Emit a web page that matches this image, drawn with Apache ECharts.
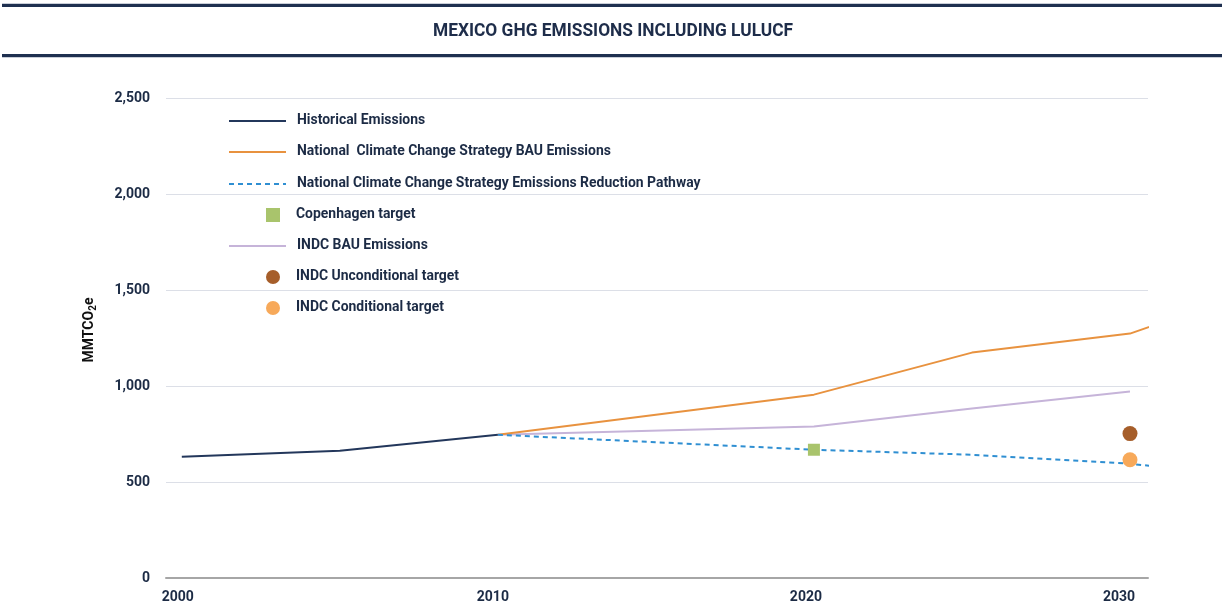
<!DOCTYPE html>
<html><head><meta charset="utf-8">
<script src="https://cdn.jsdelivr.net/npm/echarts@6/dist/echarts.min.js"></script>
<style>html,body{margin:0;padding:0;background:#fff}#c{width:1225px;height:612px}</style>
</head><body><div id="c"></div>
<script>
const FONT = 'Roboto, "Liberation Sans", sans-serif';
const TXT = '#1c2b45';

const yTicks = [0, 500, 1000, 1500, 2000, 2500];
const xTicks = [2000, 2010, 2020, 2030];

const historicalYears = [2000, 2005, 2010];
const historicalValues = [631, 663, 746];

const nccsBauYears = [2010, 2020, 2025, 2030, 2031];
const nccsBauValues = [746, 955, 1174, 1273, 1330];

const nccsPathYears = [2010, 2020, 2025, 2030, 2031];
const nccsPathValues = [746, 668, 642, 595, 578];

const copenhagenYear = [2020];
const copenhagenValue = [668];

const indcBauYears = [2010, 2020, 2025, 2030];
const indcBauValues = [746, 789, 883, 971];

const indcUncondYear = [2030];
const indcUncondValue = [752];

const indcCondYear = [2030];
const indcCondValue = [616];

const titleText = 'MEXICO GHG EMISSIONS INCLUDING LULUCF';

const names = [
  'Historical Emissions',
  'National  Climate Change Strategy BAU Emissions',
  'National Climate Change Strategy Emissions Reduction Pathway',
  'Copenhagen target',
  'INDC BAU Emissions',
  'INDC Unconditional target',
  'INDC Conditional target'
];

const zip = (xs, ys) => xs.map((x, i) => [x, ys[i]]);

// text measurement to emulate the condensed typeface
const ctx = document.createElement('canvas').getContext('2d');
function measure(txt, size) { ctx.font = 'bold ' + size + 'px ' + FONT; return ctx.measureText(txt).width; }
const legendSize = Math.min(14, 14 * 404 / measure(names[2], 14));
const titleSize = 19;
const titleScale = 360 / measure(titleText, titleSize);

const chart = echarts.init(document.getElementById('c'));

const rowCenters = [119, 150, 182, 213, 244, 275, 306];
const isLine = [true, true, true, false, true, false, false];
const legends = names.map((n, i) => isLine[i] ? {
  data: [n], left: 228, top: rowCenters[i] - 7, padding: 0, itemWidth: 57, itemHeight: 14,
  selectedMode: false, itemStyle: { opacity: 0 },
  textStyle: { fontFamily: FONT, fontWeight: 'bold', fontSize: legendSize, color: TXT, padding: [4, 0, 0, 6], lineHeight: 14 }
} : {
  data: [n], left: 266, top: rowCenters[i] - 7, padding: 0, itemWidth: 14, itemHeight: 14,
  selectedMode: false,
  textStyle: { fontFamily: FONT, fontWeight: 'bold', fontSize: legendSize, color: TXT, padding: [4, 0, 0, 11], lineHeight: 14 }
});

const labelStyle = { fontFamily: FONT, fontWeight: 'bold', fontSize: 14, color: TXT };
const xRich = {
  l0: Object.assign({ padding: [0, 8, 0, 0] }, labelStyle),
  l1: Object.assign({ padding: [0, 10, 0, 0] }, labelStyle),
  l2: Object.assign({ padding: [0, 16, 0, 0] }, labelStyle),
  l3: Object.assign({ padding: [0, 22, 0, 0] }, labelStyle)
};

chart.setOption({
  animation: false,
  backgroundColor: '#fff',
  graphic: [
    { type: 'rect', shape: { x: 2, y: 3, width: 1220, height: 1 }, style: { fill: '#c9ced8' } },
    { type: 'rect', shape: { x: 2, y: 4, width: 1220, height: 3 }, style: { fill: '#1f3050' } },
    { type: 'rect', shape: { x: 2, y: 54, width: 1220, height: 3 }, style: { fill: '#1f3050' } },
    { type: 'rect', shape: { x: 2, y: 57, width: 1220, height: 1 }, style: { fill: '#c9ced8' } },
    { type: 'text', x: 613, y: 31, scaleX: titleScale,
      style: { text: titleText, fontFamily: FONT, fontWeight: 'bold', fontSize: titleSize, fill: '#1e2d4a',
               align: 'center', verticalAlign: 'middle' } }
  ],
  legend: legends,
  grid: { left: 166, right: 77, top: 98, bottom: 34 },
  xAxis: {
    type: 'value', min: 1999.5, max: 2030.57,
    splitLine: { show: false },
    axisTick: { show: false },
    axisLine: { show: true, lineStyle: { color: '#a6a6a6', width: 2 } },
    axisLabel: {
      customValues: xTicks, margin: 12,
      fontFamily: FONT, fontWeight: 'bold', fontSize: 14, color: TXT,
      formatter: v => '{l' + xTicks.indexOf(v) + '|' + v + '}',
      rich: xRich
    }
  },
  yAxis: {
    type: 'value', min: 0, max: 2500, interval: 500,
    name: '{a|MMTCO}{b|2}{a|e}',
    nameLocation: 'middle', nameRotate: 90, nameGap: 68,
    nameTextStyle: {
      padding: [0, 0, 0, 16],
      rich: {
        a: { fontFamily: FONT, fontWeight: 'bold', fontSize: 14, color: '#111', verticalAlign: 'bottom', height: 18 },
        b: { fontFamily: FONT, fontWeight: 'bold', fontSize: 10, color: '#111', verticalAlign: 'bottom', height: 18, padding: [0, 0, -4, 0] }
      }
    },
    axisLine: { show: false }, axisTick: { show: false },
    splitLine: { lineStyle: { color: '#dcdfe7', width: 1 } },
    axisLabel: {
      margin: 16, fontFamily: FONT, fontWeight: 'bold', fontSize: 14, color: TXT,
      formatter: v => yTicks.includes(v) ? v.toLocaleString('en-US') : ''
    }
  },
  series: [
    { name: names[0], type: 'line', data: zip(historicalYears, historicalValues), symbol: 'none',
      lineStyle: { color: '#23375b', width: 2 }, itemStyle: { color: '#23375b' }, z: 5 },
    { name: names[1], type: 'line', data: zip(nccsBauYears, nccsBauValues), symbol: 'none', clip: true,
      lineStyle: { color: '#e8923f', width: 2 }, itemStyle: { color: '#e8923f' }, z: 3 },
    { name: names[2], type: 'line', data: zip(nccsPathYears, nccsPathValues), symbol: 'none', clip: true,
      lineStyle: { color: '#2f8fd2', width: 2, type: [5, 4] }, itemStyle: { color: '#2f8fd2' }, z: 3 },
    { name: names[3], type: 'scatter', data: zip(copenhagenYear, copenhagenValue), symbol: 'rect', symbolSize: 12,
      itemStyle: { color: '#a9c46c', opacity: 1 }, z: 6 },
    { name: names[4], type: 'line', data: zip(indcBauYears, indcBauValues), symbol: 'none',
      lineStyle: { color: '#c6b4d9', width: 2 }, itemStyle: { color: '#c6b4d9' }, z: 2 },
    { name: names[5], type: 'scatter', data: zip(indcUncondYear, indcUncondValue), symbol: 'circle', symbolSize: 15,
      itemStyle: { color: '#a65e2a', opacity: 1 }, z: 6 },
    { name: names[6], type: 'scatter', data: zip(indcCondYear, indcCondValue), symbol: 'circle', symbolSize: 15,
      itemStyle: { color: '#f7a95a', opacity: 1 }, z: 6 }
  ]
});
</script></body></html>
